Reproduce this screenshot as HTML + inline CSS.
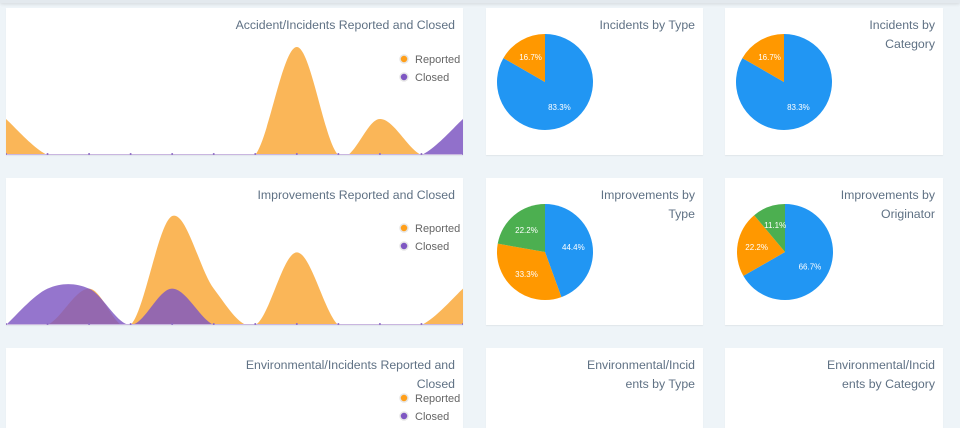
<!DOCTYPE html>
<html><head><meta charset="utf-8">
<style>
body{margin:0;width:960px;height:412px;overflow:hidden;background:#eef4f8;font-family:"Liberation Sans",sans-serif;position:relative}
.topbar{position:absolute;left:0;top:0;width:960px;height:3px;background:#e3e9ee;box-shadow:0 1px 3px rgba(0,0,0,.12)}
.card{position:absolute;background:#fff;box-shadow:0 1px 1px rgba(0,0,0,.06)}
.title{position:absolute;right:8px;top:8px;text-align:right;font-size:12.3px;line-height:19px;color:#5f7184}
svg{position:absolute;left:0;top:0}
</style></head><body>
<div class="topbar"></div>

<div class="card" style="left:6px;top:8px;width:457px;height:147px">
 <div class="title">Accident/Incidents Reported and Closed</div>
 <svg id="area1" width="457" height="147"></svg>
</div>
<div class="card" style="left:486px;top:8px;width:217px;height:147px">
 <div class="title">Incidents by Type</div>
 <svg id="pie1" width="217" height="147"></svg>
</div>
<div class="card" style="left:725px;top:8px;width:218px;height:147px">
 <div class="title">Incidents by<br>Category</div>
 <svg id="pie2" width="218" height="147"></svg>
</div>

<div class="card" style="left:6px;top:178px;width:457px;height:147px">
 <div class="title">Improvements Reported and Closed</div>
 <svg id="area2" width="457" height="147"></svg>
</div>
<div class="card" style="left:486px;top:178px;width:217px;height:147px">
 <div class="title">Improvements by<br>Type</div>
 <svg id="pie3" width="217" height="147"></svg>
</div>
<div class="card" style="left:725px;top:178px;width:218px;height:147px">
 <div class="title">Improvements by<br>Originator</div>
 <svg id="pie4" width="218" height="147"></svg>
</div>

<div class="card" style="left:6px;top:348px;width:457px;height:80px">
 <div class="title">Environmental/Incidents Reported and<br>Closed</div>
 <svg id="area3" width="457" height="80"></svg>
</div>
<div class="card" style="left:486px;top:348px;width:217px;height:80px">
 <div class="title">Environmental/Incid<br>ents by Type</div>
</div>
<div class="card" style="left:725px;top:348px;width:218px;height:80px">
 <div class="title">Environmental/Incid<br>ents by Category</div>
</div>

<script>
const months = ["Jan","Feb","Mar","Apr","May","Jun","Jul","Aug","Sep","Oct","Nov","Dec"];
const accReported = [1,0,0,0,0,0,0,3,0,1,0,0];
const accClosed = [0,0,0,0,0,0,0,0,0,0,0,1];
const impReported = [0,0,1,0,3,1,0,2,0,0,0,1];
const impClosed = [0,1,1,0,1,0,0,0,0,0,0,0];
const yMax = 3;

const incTypeLabels = ["Type A","Type B"];
const incTypeValues = [83.3,16.7];
const incCatLabels = ["Cat A","Cat B"];
const incCatValues = [83.3,16.7];
const impTypeLabels = ["Type A","Type B","Type C"];
const impTypeValues = [44.4,33.3,22.2];
const impOrigLabels = ["Orig A","Orig B","Orig C"];
const impOrigValues = [66.7,22.2,11.1];

const NS="http://www.w3.org/2000/svg";
const pieColors=["#2196f3","#ff9800","#4caf50"];

function mk(tag,attrs,parent){const e=document.createElementNS(NS,tag);for(const k in attrs)e.setAttribute(k,attrs[k]);parent.appendChild(e);return e;}

function areaChart(id,series,colors,opac,W,base,top,legend){
  const svg=document.getElementById(id);
  const n=months.length;
  const xs=i=>i*(W/(n-1));
  const ys=v=>base-(v/yMax)*(base-top);
  const cid=id+"clip";
  const defs=mk("defs",{},svg);
  const cp=mk("clipPath",{id:cid},defs);
  mk("rect",{x:0,y:0,width:W,height:base},cp);
  series.forEach((vals,si)=>{
    const p=vals.map((v,i)=>[xs(i),ys(v)]);
    let d=`M${p[0][0]},${base} L${p[0][0]},${p[0][1]}`;
    for(let i=0;i<p.length-1;i++){
      const p0=p[Math.max(0,i-1)],p1=p[i],p2=p[i+1],p3=p[Math.min(p.length-1,i+2)];
      const c1=[p1[0]+(p2[0]-p0[0])/6,p1[1]+(p2[1]-p0[1])/6];
      const c2=[p2[0]-(p3[0]-p1[0])/6,p2[1]-(p3[1]-p1[1])/6];
      d+=` C${c1[0]},${c1[1]} ${c2[0]},${c2[1]} ${p2[0]},${p2[1]}`;
    }
    d+=` L${p[p.length-1][0]},${base} Z`;
    const path=mk("path",{d:d,fill:colors[si],"fill-opacity":opac[si],"clip-path":`url(#${cid})`},svg);
    
    
  });
  mk("line",{x1:0,y1:base-0.5,x2:W,y2:base-0.5,stroke:"#c9b6e0","stroke-width":1},svg);
  months.forEach((m,i)=>{
    const t=mk("circle",{cx:xs(i),cy:base-1,r:1,fill:"#8e6cc4"},svg);
    
    
  });
  if(legend){
    [["Reported","#ff9f1a"],["Closed","#7e57c2"]].forEach((l,i)=>{
      const y=legend+i*18;
      const c=mk("circle",{cx:398,cy:y,r:4,fill:l[1],stroke:"#e6e6e6","stroke-width":1.5},svg);
      
      
      const t=mk("text",{x:409,y:y+4,"font-size":"11","fill":"#666","font-family":"Liberation Sans, sans-serif"},svg);
      t.textContent=l[0];
      
      
    });
  }
}

function pie(id,labels,values,cx,cy,r){
  const svg=document.getElementById(id);
  const total=values.reduce((a,b)=>a+b,0);
  let a=-Math.PI/2;
  values.forEach((v,i)=>{
    const sweep=v/total*Math.PI*2;
    const a2=a+sweep;
    const x1=cx+r*Math.cos(a),y1=cy+r*Math.sin(a),x2=cx+r*Math.cos(a2),y2=cy+r*Math.sin(a2);
    const s=mk("path",{d:`M${cx},${cy} L${x1},${y1} A${r},${r} 0 ${sweep>Math.PI?1:0} 1 ${x2},${y2} Z`,fill:pieColors[i]},svg);
    
    
    const m=a+sweep/2,lr=r*0.6;
    const t=mk("text",{x:cx+lr*Math.cos(m),y:cy+lr*Math.sin(m)+3,"font-size":"8","fill":"#fff","text-anchor":"middle","font-family":"Liberation Sans, sans-serif"},svg);
    t.textContent=v.toFixed(1)+"%";
    
    
    a=a2;
  });
}

areaChart("area1",[accReported,accClosed],["#f9a93b","#7e57c2"],[0.85,0.85],457,147,39,51);
areaChart("area2",[impReported,impClosed],["#f9a93b","#7e57c2"],[0.85,0.82],457,147,38,50);
pie("pie1",incTypeLabels,incTypeValues,59,74,48);
pie("pie2",incCatLabels,incCatValues,59,74,48);
pie("pie3",impTypeLabels,impTypeValues,59,74,48);
pie("pie4",impOrigLabels,impOrigValues,60,74,48);
(function(){
  const svg=document.getElementById("area3");
  [["Reported","#ff9f1a",50],["Closed","#7e57c2",68]].forEach(l=>{
    const c=mk("circle",{cx:398,cy:l[2],r:4,fill:l[1],stroke:"#e6e6e6","stroke-width":1.5},svg);
    
    
    const t=mk("text",{x:409,y:l[2]+4,"font-size":"11","fill":"#666","font-family":"Liberation Sans, sans-serif"},svg);
    t.textContent=l[0];
    
    
  });
})();
</script>
</body></html>
